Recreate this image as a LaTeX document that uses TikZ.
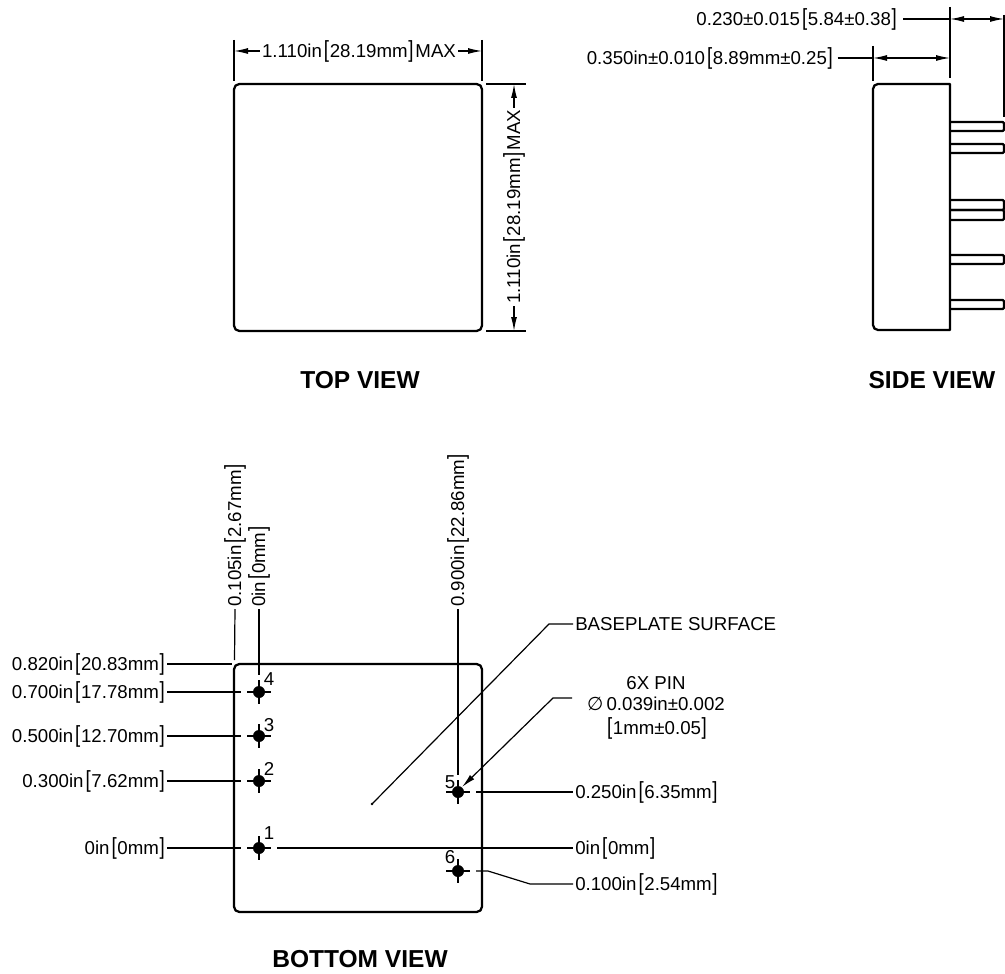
\documentclass[tikz,border=0pt]{standalone}
\usepackage{fontspec}
\usepackage{graphicx}
\setmainfont{Liberation Sans}
\newfontfamily\symfont{DejaVu Sans}
\usetikzlibrary{arrows.meta}
\newcommand{\lbrk}{\hspace{1.5pt}\scalebox{1}[1.25]{[}\hspace{0.5pt}}
\newcommand{\rbrk}{\hspace{0.5pt}\scalebox{1}[1.25]{]}\hspace{1.5pt}}
\begin{document}
\begin{tikzpicture}[x=0.75pt,y=-0.75pt]
    \tikzstyle{outline}=[line width=1.7pt,line join=round]
    \tikzstyle{thinline}=[line width=0.9pt]
    \tikzstyle{dimarrow}=[thinline,{Latex[length=10.5pt,width=4.5pt]}-{Latex[length=10.5pt,width=4.5pt]}]
    \tikzstyle{tiparrow}=[thinline,-{Latex[length=10.5pt,width=4.5pt]}]
    \tikzstyle{lbl}=[inner ysep=0pt,inner xsep=1.5pt,font=\fontsize{14pt}{15pt}\selectfont]
    \tikzstyle{title}=[inner sep=0pt,font=\bfseries\fontsize{18.4pt}{20pt}\selectfont]
    \tikzstyle{pinnum}=[inner sep=0pt,font=\fontsize{14pt}{15pt}\selectfont]
    \tikzstyle{pindot}=[circle,fill=black,inner sep=0pt,minimum size=9pt]
    \useasboundingbox (0,0) rectangle (1005,973);
    % top view
    \draw[outline,rounded corners=4] (234,84) rectangle (482,331);
    \draw[thinline] (234,40) -- (234,81);
    \draw[thinline] (482,40) -- (482,81);
    \draw[thinline] (486,84) -- (526,84);
    \draw[thinline] (486,331) -- (526,331);
    \coordinate (topl) at (234,51);
    \coordinate (topr) at (482,51);
    \coordinate (rightt) at (514,84);
    \coordinate (rightb) at (514,331);
    \node[lbl] (width) at (359,51) {1.110in\lbrk 28.19mm\rbrk MAX};
    \node[lbl,rotate=90] (height) at (514,207) {1.110in\lbrk 28.19mm\rbrk MAX};
    \draw[tiparrow] (width.west) -- (topl);
    \draw[tiparrow] (width.east) -- (topr);
    \draw[tiparrow] (height.east) -- (rightt);
    \draw[tiparrow] (height.west) -- (rightb);
    \node[title] (topview) at (360,380) {TOP VIEW};
    % side view
    \draw[outline] (950,84) -- (878,84) to[out=180,in=90] (873,89) -- (873,325)
        to[out=-90,in=180] (878,330) -- (950,330) -- cycle;
    \foreach \y/\h in {122/131,144/153,200/210,210/220,255/264,300/309}
        \draw[outline,rounded corners=1] (950,\y) -- (1004,\y) -- (1004,\h) -- (950,\h);
    \draw[thinline] (950,7) -- (950,78);
    \draw[thinline] (1004,15) -- (1004,117);
    \draw[thinline] (873,46) -- (873,81);
    \coordinate (thickl) at (950,19);
    \coordinate (thickr) at (1004,19);
    \coordinate (bodyl) at (873,58);
    \coordinate (bodyr) at (950,58);
    \node[lbl,anchor=east] (pinlen) at (899,19) {0.230±0.015\lbrk 5.84±0.38\rbrk};
    \node[lbl,anchor=east] (bodylen) at (835,58) {0.350in±0.010\lbrk 8.89mm±0.25\rbrk};
    \draw[thinline] ([xshift=3pt]pinlen.east) -- (thickl);
    \draw[thinline] ([xshift=2pt]bodylen.east) -- (bodyl);
    \draw[dimarrow] (thickl) -- (thickr);
    \draw[dimarrow] (bodyl) -- (bodyr);
    \node[title] (sideview) at (932,380) {SIDE VIEW};
    % bottom view
    \draw[outline,rounded corners=4] (234,664) rectangle (482,912);
    \foreach \n/\x/\y in {1/259/848,2/259/781,3/259/736,4/259/692,5/458/792,6/458/871} {
        \node[pindot] (p\n) at (\x,\y) {};
        \draw[thinline] (\x-12,\y) -- (\x+12,\y);
        \draw[thinline] (\x,\y-12) -- (\x,\y+12);
        \coordinate (p\n w) at (\x-18,\y);
        \coordinate (p\n e) at (\x+18,\y);
        \coordinate (p\n n) at (\x,\y-17);
    }
    \node[pinnum] (n1) at (269,833) {1};
    \node[pinnum] (n2) at (269,769) {2};
    \node[pinnum] (n3) at (269,725) {3};
    \node[pinnum] (n4) at (269,679) {4};
    \node[pinnum] (n5) at (450,782) {5};
    \node[pinnum] (n6) at (450,857) {6};
    % left dimensions
    \coordinate (corner) at (232,664);
    \node[lbl,anchor=east] (l820) at (167,664) {0.820in\lbrk 20.83mm\rbrk};
    \node[lbl,anchor=east] (l700) at (167,692) {0.700in\lbrk 17.78mm\rbrk};
    \node[lbl,anchor=east] (l500) at (167,736) {0.500in\lbrk 12.70mm\rbrk};
    \node[lbl,anchor=east] (l300) at (167,781) {0.300in\lbrk 7.62mm\rbrk};
    \node[lbl,anchor=east] (l0) at (167,848) {0in\lbrk 0mm\rbrk};
    \draw[thinline] (l820.east) -- (corner);
    \draw[thinline] (l700.east) -- (p4w);
    \draw[thinline] (l500.east) -- (p3w);
    \draw[thinline] (l300.east) -- (p2w);
    \draw[thinline] (l0.east) -- (p1w);
    % upper dimensions
    \coordinate (cornerb) at (234.5,660);
    \node[lbl,rotate=90,anchor=west] (t105) at (235,609) {0.105in\lbrk 2.67mm\rbrk};
    \node[lbl,rotate=90,anchor=west] (t0) at (259,609) {0in\lbrk 0mm\rbrk};
    \node[lbl,rotate=90,anchor=west] (t900) at (458,609) {0.900in\lbrk 22.86mm\rbrk};
    \draw[thinline] (t105.west) -- (cornerb);
    \draw[thinline] (t0.west) -- (p4n);
    \draw[thinline] (t900.west) -- (p5n);
    % right dimensions
    \node[lbl,anchor=west] (r250) at (573,792) {0.250in\lbrk 6.35mm\rbrk};
    \node[lbl,anchor=west] (r0) at (573,848) {0in\lbrk 0mm\rbrk};
    \node[lbl,anchor=west] (r100) at (573,884) {0.100in\lbrk 2.54mm\rbrk};
    \draw[thinline] (p5e) -- (r250.west);
    \draw[thinline] (p1e) -- (r0.west);
    \coordinate (bend6a) at (488,871);
    \coordinate (bend6b) at (530,884);
    \draw[thinline] (p6e) -- (bend6a) -- (bend6b) -- (r100.west);
    % notes
    \node[lbl,anchor=west] (base) at (573,624) {BASEPLATE SURFACE};
    \coordinate (baseb) at (549,624);
    \coordinate (basee) at (372,804);
    \draw[thinline] (base.west) -- (baseb) -- (basee);
    \fill (basee) circle (1.3);
    \node[lbl,align=center,font=\fontsize{14pt}{20pt}\selectfont] (pinnote) at (656,708) {6X PIN\\[-4.5pt]{\symfont ∅}\,0.039in±0.002\\[-2pt]\lbrk 1mm±0.05\rbrk};
    \coordinate (noteend) at (572,698);
    \coordinate (noteb) at (553,698);
    \coordinate (notetip) at (462,787);
    \draw[tiparrow] (noteend) -- (noteb) -- (notetip);
    \node[title] (bottomview) at (360,959) {BOTTOM VIEW};
\end{tikzpicture}
\end{document}
